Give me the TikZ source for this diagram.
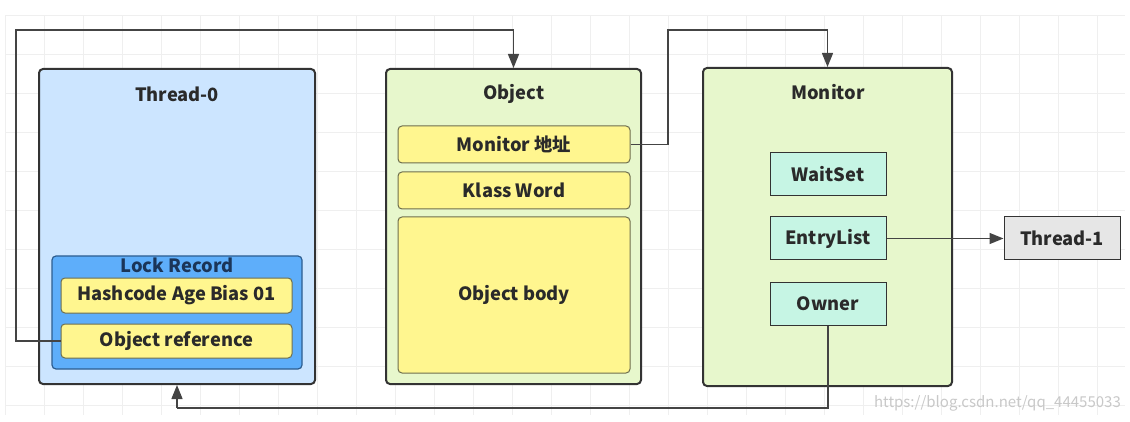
\documentclass[tikz,border=0pt]{standalone}
\usepackage{fontspec}
\setmainfont{Noto Sans CJK SC}
\usetikzlibrary{arrows.meta}
\definecolor{txt}{HTML}{2A2A2A}
\definecolor{edge}{HTML}{333333}
\definecolor{threadfill}{HTML}{CCE5FF}
\definecolor{lockfill}{HTML}{5EAEFA}
\definecolor{lockedge}{HTML}{2E5E90}
\definecolor{locktxt}{HTML}{1B3558}
\definecolor{yelfill}{HTML}{FFF68F}
\definecolor{yeledge}{HTML}{6E6E4E}
\definecolor{grnfill}{HTML}{E7F7CC}
\definecolor{mintfill}{HTML}{C6F5E4}
\definecolor{greyfill}{HTML}{E6E6E6}
\definecolor{conncol}{HTML}{444444}
\definecolor{gridcol}{HTML}{EFEFEF}
\definecolor{wmark}{HTML}{C8C8C8}
\tikzset{
  lbl/.style={font=\bfseries\fontsize{18.3}{21}\selectfont, text=txt},
  outerbox/.style={draw=edge, line width=2pt, rounded corners=4pt, inner sep=0pt},
  lockbox/.style={draw=lockedge, fill=lockfill, line width=1.2pt, rounded corners=4pt, inner sep=0pt},
  yelbox/.style={lbl, draw=yeledge, fill=yelfill, line width=1pt, rounded corners=4pt, inner sep=0pt},
  mintbox/.style={lbl, draw=edge, fill=mintfill, line width=1pt, inner sep=0pt, minimum width=116pt, minimum height=43pt},
  greybox/.style={lbl, draw=edge, fill=greyfill, line width=1pt, inner sep=0pt, minimum width=116pt, minimum height=43pt},
  title/.style={lbl, inner sep=0pt},
  conn/.style={draw=conncol, line width=1.4pt},
  arr/.style={-{Triangle[length=14pt,width=11pt]}}
}
\begin{document}
\begin{tikzpicture}[x=1pt,y=-1pt]
\useasboundingbox (0,0) rectangle (1130,422);
% faint grid
\foreach \yy in {15,54,...,415} {\draw[gridcol, line width=0.8pt] (5,\yy) -- (1125,\yy);}
\foreach \xx in {5,44,...,1125} {\draw[gridcol, line width=0.8pt] (\xx,15) -- (\xx,415);}
% Thread-0
\node[outerbox, fill=threadfill, minimum width=276pt, minimum height=315pt] (t0) at (177,226.5) {};
\node[title] (t0title) at (177,94) {Thread-0};
\node[lockbox, minimum width=250pt, minimum height=113pt] (lock) at (177,312.5) {};
\node[title, text=locktxt] (locktitle) at (177,265) {Lock Record};
\node[yelbox, minimum width=231pt, minimum height=35pt] (hash) at (176.5,295.5) {Hashcode Age Bias 01};
\node[yelbox, minimum width=231pt, minimum height=34pt] (objref) at (176.5,341) {Object reference};
% Object
\node[outerbox, fill=grnfill, minimum width=255pt, minimum height=315pt] (obj) at (513.5,226.5) {};
\node[title] (objtitle) at (514,94) {Object};
\node[yelbox, minimum width=232pt, minimum height=37pt] (monaddr) at (514,144.5) {Monitor 地址};
\node[yelbox, minimum width=232pt, minimum height=37pt] (klass) at (514,190.5) {Klass Word};
\node[yelbox, minimum width=232pt, minimum height=156pt] (body) at (514,295) {Object body};
% Monitor
\node[outerbox, fill=grnfill, minimum width=249pt, minimum height=318pt] (mon) at (827.5,227) {};
\node[title] (montitle) at (828,92) {Monitor};
\node[mintbox] (wait) at (828,174.5) {WaitSet};
\node[mintbox] (entry) at (828,238.5) {EntryList};
\node[mintbox] (owner) at (828,303.5) {Owner};
% Thread-1
\node[greybox] (t1) at (1062,238.5) {Thread-1};
% connectors
\coordinate (c1) at (16,30);
\coordinate (c2) at (668,30);
\coordinate (c3) at (177,408);
\draw[conn, arr] (objref.west) -| (c1) -| (obj.north);
\draw[conn, arr] (monaddr.east) -| (c2) -| (mon.north);
\draw[conn, arr] (entry.east) -- (t1.west);
\draw[conn] (owner.south) |- (c3);
\draw[conn, arr] (c3) -- (t0.south);
% watermark
\node[anchor=east, text=wmark, font=\fontsize{15}{18}\selectfont, inner sep=0pt] (wm) at (1121,403) {https://blog.csdn.net/qq\_44455033};
\end{tikzpicture}
\end{document}
